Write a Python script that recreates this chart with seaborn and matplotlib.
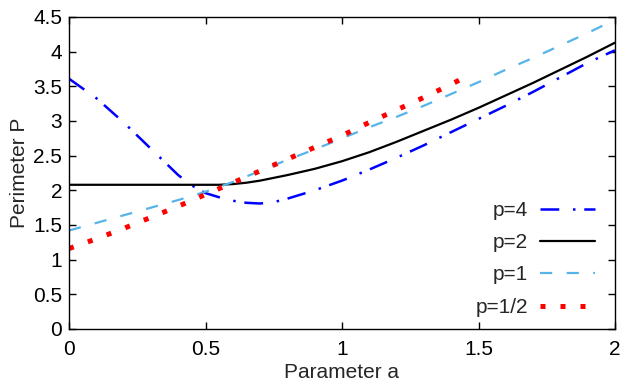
import matplotlib
matplotlib.use("Agg")
import matplotlib.pyplot as plt
import seaborn as sns

sns.set_theme(style="ticks")
plt.rcParams['font.family'] = ['Liberation Sans', 'DejaVu Sans']
plt.rcParams['xtick.direction'] = 'in'
plt.rcParams['ytick.direction'] = 'in'

# values
a4 = [0, 0.1, 0.2, 0.3, 0.4, 0.45, 0.5, 0.55, 0.6, 0.65, 0.7, 0.75, 0.8, 0.9,
      1.0, 1.1, 1.2, 1.3, 1.4, 1.5, 1.6, 1.7, 1.8, 1.9, 2.0]
p4 = [3.61, 3.33, 2.98, 2.60, 2.22, 2.07, 1.96, 1.90, 1.85, 1.82, 1.81, 1.83, 1.88, 2.00,
      2.14, 2.30, 2.47, 2.65, 2.84, 3.03, 3.22, 3.42, 3.63, 3.84, 4.02]

a2 = [0, 0.5, 0.55, 0.6, 0.65, 0.7, 0.8, 0.9, 1.0, 1.1, 1.2, 1.3, 1.4, 1.5,
      1.6, 1.7, 1.8, 1.9, 2.0]
p2 = [2.08, 2.08, 2.08, 2.09, 2.11, 2.14, 2.22, 2.31, 2.42, 2.55, 2.70, 2.86, 3.02, 3.19,
      3.37, 3.55, 3.74, 3.93, 4.13]

a1 = [0, 0.1, 0.2, 0.3, 0.4, 0.5, 0.6, 0.7, 0.8, 0.9, 1.0, 1.1, 1.2, 1.3, 1.4,
      1.5, 1.6, 1.7, 1.8, 1.9, 2.0]
p1 = [1.42, 1.53, 1.64, 1.75, 1.86, 1.98, 2.12, 2.28, 2.44, 2.59, 2.75, 2.91, 3.06, 3.22, 3.39,
      3.56, 3.74, 3.91, 4.09, 4.27, 4.46]

ah = [0, 0.1, 0.2, 0.3, 0.4, 0.5, 0.6, 0.7, 0.8, 0.9, 1.0, 1.1, 1.2, 1.3, 1.4, 1.43]
ph = [1.16, 1.30, 1.45, 1.61, 1.77, 1.94, 2.11, 2.28, 2.45, 2.62, 2.79, 2.98, 3.16, 3.34, 3.53, 3.59]

fig = plt.figure(figsize=(6.4, 3.84), dpi=100)
ax = fig.add_axes([69/640, 55/384, 546/640, 312/384])

sns.lineplot(x=a4, y=p4, ax=ax, color='#0000ff', lw=1.8, linestyle=(0, (7.5, 5.5, 1, 3.5)),
             label='p=4', sort=False)
sns.lineplot(x=a2, y=p2, ax=ax, color='black', lw=1.6, label='p=2', sort=False)
sns.lineplot(x=a1, y=p1, ax=ax, color='#56b4e9', lw=1.6, linestyle=(0, (5.5, 6.5)),
             label='p=1', sort=False)
sns.lineplot(x=ah, y=ph, ax=ax, color='#ff0000', lw=3.6, linestyle=(0, (1, 3)),
             dash_capstyle='butt', label='p=1/2', sort=False)

ax.set_xlim(0, 2)
ax.set_ylim(0, 4.5)
ax.set_xticks([0, 0.5, 1, 1.5, 2])
ax.set_xticklabels(['0', '0.5', '1', '1.5', '2'])
ax.set_yticks([0, 0.5, 1, 1.5, 2, 2.5, 3, 3.5, 4, 4.5])
ax.set_yticklabels(['0', '0.5', '1', '1.5', '2', '2.5', '3', '3.5', '4', '4.5'])
ax.tick_params(axis='both', which='major', labelsize=15, length=5, width=1,
               top=True, right=True, colors='black', pad=5)
ax.tick_params(axis='x', pad=8)
for s in ax.spines.values():
    s.set_visible(True)
    s.set_color('black')
    s.set_linewidth(1)

ax.set_xlabel('Parameter a', fontsize=15, labelpad=3)
ax.set_ylabel('Perimeter P', fontsize=15, labelpad=3)

ax.legend(loc='lower right', bbox_to_anchor=(1, -0.025), frameon=False, fontsize=15,
          markerfirst=False, handlelength=2.64, handletextpad=0.58, labelspacing=0.64,
          borderaxespad=0.56)

fig.savefig('out.png', dpi=100)
